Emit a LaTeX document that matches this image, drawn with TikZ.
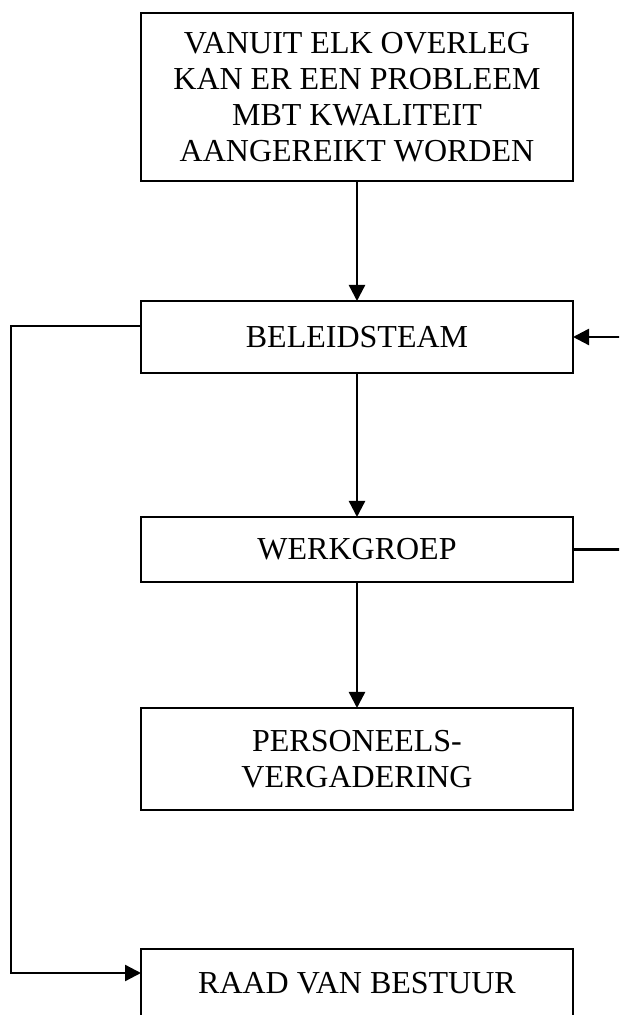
\documentclass[tikz,border=0pt]{standalone}
\usepackage{fontspec}
\setmainfont{Liberation Serif}
\usetikzlibrary{positioning,arrows.meta,calc}
\tikzset{
  box/.style={rectangle,draw=black,line width=2pt,fill=white,align=center,
    minimum width=432pt,inner sep=0pt,outer sep=0pt,
    font=\fontsize{32}{36}\selectfont},
  ar/.style={-{Triangle[length=16pt,width=16pt]},line width=2.4pt,draw=black},
  ln/.style={line width=2.4pt,draw=black},
}
\begin{document}
\begin{tikzpicture}[x=1pt,y=1pt,node distance=120pt]
  \fill[white] (0,0) rectangle (619,1015);
  \useasboundingbox (0,0) rectangle (619,1015);
  \clip (0,0) rectangle (619,1015);
  \node[box,minimum height=168pt] (probleem) at (357,918) {VANUIT ELK OVERLEG\\KAN ER EEN PROBLEEM\\MBT KWALITEIT\\AANGEREIKT WORDEN};
  \node[box,minimum height=72pt,below=120pt of probleem] (beleid) {BELEIDSTEAM};
  \node[box,minimum height=65pt,below=144pt of beleid] (werk) {WERKGROEP};
  \node[box,minimum height=102pt,below=126pt of werk] (pers) {PERSONEELS-\\VERGADERING};
  \node[box,minimum height=68pt,below=139pt of pers] (raad) {RAAD VAN BESTUUR};
  \draw[ar] (probleem) -- (beleid);
  \draw[ar] (beleid) -- (werk);
  \draw[ar] (werk) -- (pers);
  \draw[ar] ($(beleid.west)+(0,11)$) -- ++(-130,0) |- ($(raad.west)+(0,10)$);
  \draw[ln] (werk.east) -- ++(50,0);
  \draw[ar] ($(beleid.east)+(50,0)$) -- (beleid.east);
\end{tikzpicture}
\end{document}
